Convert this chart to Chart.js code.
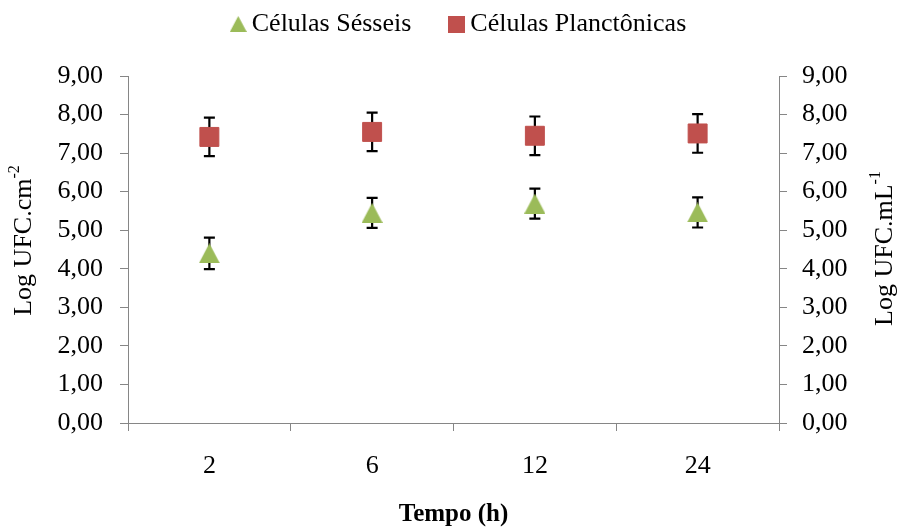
<!DOCTYPE html>
<html>
<head>
<meta charset="utf-8">
<script src="https://cdn.jsdelivr.net/npm/chart.js@4.4.1/dist/chart.umd.min.js"></script>
<style>
    body { margin: 0; background: #fff; }
    canvas { display: block; }
</style>
</head>
<body>
<canvas id="grafico" width="901" height="527"></canvas>
<script>
// dados
const tempos = ["2", "6", "12", "24"];
const sesseis = [4.40, 5.45, 5.69, 5.46];
const sesseisErro = [0.41, 0.39, 0.39, 0.39];
const planctonicas = [7.42, 7.55, 7.45, 7.51];
const planctonicasErro = [0.50, 0.50, 0.50, 0.50];
const nomesSeries = ["Células Sésseis", "Células Planctônicas"];
const tituloX = "Tempo (h)";
const tituloY1 = ["Log UFC.cm", "-2"];
const tituloY2 = ["Log UFC.mL", "-1"];

const verde = "#9BBB59";
const vermelho = "#C0504D";
const cinza = "#868686";
const fonte = "'Liberation Serif', 'Times New Roman', serif";

function triangulo(w, h, cor) {
    var c = document.createElement("canvas");
    c.width = w;
    c.height = h;
    var g = c.getContext("2d");
    g.fillStyle = cor;
    g.beginPath();
    g.moveTo(w / 2, 0);
    g.lineTo(w, h);
    g.lineTo(0, h);
    g.closePath();
    g.fill();
    return c;
}
function quadrado(w, h, cor) {
    var c = document.createElement("canvas");
    c.width = w;
    c.height = h;
    var g = c.getContext("2d");
    g.fillStyle = cor;
    g.fillRect(0, 0, w, h);
    return c;
}

// barras de erro desenhadas por baixo dos marcadores
const barrasErro = {
    id: "barrasErro",
    beforeDatasetsDraw(chart) {
        const ctx = chart.ctx;
        ctx.save();
        ctx.strokeStyle = "#000";
        ctx.lineWidth = 2.2;
        chart.data.datasets.forEach((ds, i) => {
            const meta = chart.getDatasetMeta(i);
            const escala = chart.scales[meta.yAxisID];
            meta.data.forEach((pt, j) => {
                const topo = escala.getPixelForValue(ds.data[j] + ds.erros[j]);
                const base = escala.getPixelForValue(ds.data[j] - ds.erros[j]);
                ctx.beginPath();
                ctx.moveTo(pt.x, topo);
                ctx.lineTo(pt.x, base);
                ctx.moveTo(pt.x - 5.5, topo);
                ctx.lineTo(pt.x + 5.5, topo);
                ctx.moveTo(pt.x - 5.5, base);
                ctx.lineTo(pt.x + 5.5, base);
                ctx.stroke();
            });
        });
        ctx.restore();
    }
};

// titulos dos eixos y com sobrescrito, lidos de baixo para cima
function tituloVertical(ctx, partes, cx, cy) {
    ctx.save();
    ctx.translate(cx, cy);
    ctx.rotate(-Math.PI / 2);
    ctx.fillStyle = "#000";
    ctx.textBaseline = "middle";
    ctx.textAlign = "left";
    ctx.font = "26px " + fonte;
    const w1 = ctx.measureText(partes[0]).width;
    ctx.font = "16px " + fonte;
    const w2 = ctx.measureText(partes[1]).width;
    const x0 = -(w1 + w2) / 2;
    ctx.font = "26px " + fonte;
    ctx.fillText(partes[0], x0, 0);
    ctx.font = "16px " + fonte;
    ctx.fillText(partes[1], x0 + w1, -9);
    ctx.restore();
}
const titulosY = {
    id: "titulosY",
    afterDraw(chart) {
        const a = chart.chartArea;
        const meio = (a.top + a.bottom) / 2;
        tituloVertical(chart.ctx, tituloY1, chart.scales.y.left + 1, meio - 9);
        tituloVertical(chart.ctx, tituloY2, chart.scales.y2.right - 16, meio - 1);
    }
};

function formatoVirgula(v) {
    return v.toFixed(2).replace(".", ",");
}

Chart.defaults.font.family = fonte;
Chart.defaults.font.size = 26;
Chart.defaults.color = "#000";

const simbolos = [triangulo(17, 16, verde), quadrado(17, 17, vermelho)];

new Chart(document.getElementById("grafico"), {
    type: "line",
    data: {
        labels: tempos,
        datasets: [{
            label: nomesSeries[0],
            data: sesseis,
            erros: sesseisErro,
            yAxisID: "y",
            showLine: false,
            pointStyle: triangulo(21, 20, verde),
            backgroundColor: verde,
            borderColor: verde
        }, {
            label: nomesSeries[1],
            data: planctonicas,
            erros: planctonicasErro,
            yAxisID: "y2",
            showLine: false,
            pointStyle: "rect",
            pointRadius: 13.4,
            pointBorderWidth: 1,
            backgroundColor: vermelho,
            borderColor: vermelho
        }]
    },
    options: {
        responsive: false,
        animation: false,
        events: [],
        layout: { padding: { top: -34, left: 23, right: 0, bottom: 0 } },
        plugins: {
            legend: {
                position: "top",
                labels: {
                    usePointStyle: true,
                    boxWidth: 1,
                    padding: 45,
                    font: { size: 26 },
                    generateLabels(chart) {
                        const itens = Chart.defaults.plugins.legend.labels.generateLabels(chart);
                        itens.forEach((it, i) => { it.pointStyle = simbolos[i]; });
                        return itens;
                    }
                }
            },
            // espaco entre legenda e area do grafico
            title: {
                display: true,
                text: "",
                weight: 500,
                font: { size: 10, lineHeight: 1 },
                padding: { top: 19, bottom: 0 }
            },
            tooltip: { enabled: false }
        },
        scales: {
            x: {
                offset: true,
                grid: { offset: true, drawOnChartArea: false, tickLength: 8, color: cinza },
                border: { color: cinza },
                ticks: { padding: 20 },
                title: {
                    display: true,
                    text: tituloX,
                    font: { size: 25, weight: "bold", lineHeight: 1 },
                    padding: { top: 0, bottom: 0 }
                },
                afterFit(s) { s.height = 104; }
            },
            y: {
                position: "left",
                min: 0,
                max: 9,
                ticks: { stepSize: 1, padding: 17, callback: formatoVirgula },
                grid: { drawOnChartArea: false, tickLength: 8, color: cinza },
                border: { color: cinza },
                afterFit(s) { s.width = 105; }
            },
            y2: {
                position: "right",
                min: 0,
                max: 9,
                ticks: { stepSize: 1, padding: 15, callback: formatoVirgula },
                grid: { drawOnChartArea: false, tickLength: 8, color: cinza },
                border: { color: cinza },
                afterFit(s) { s.width = 122; }
            }
        }
    },
    plugins: [barrasErro, titulosY]
});
</script>
</body>
</html>
